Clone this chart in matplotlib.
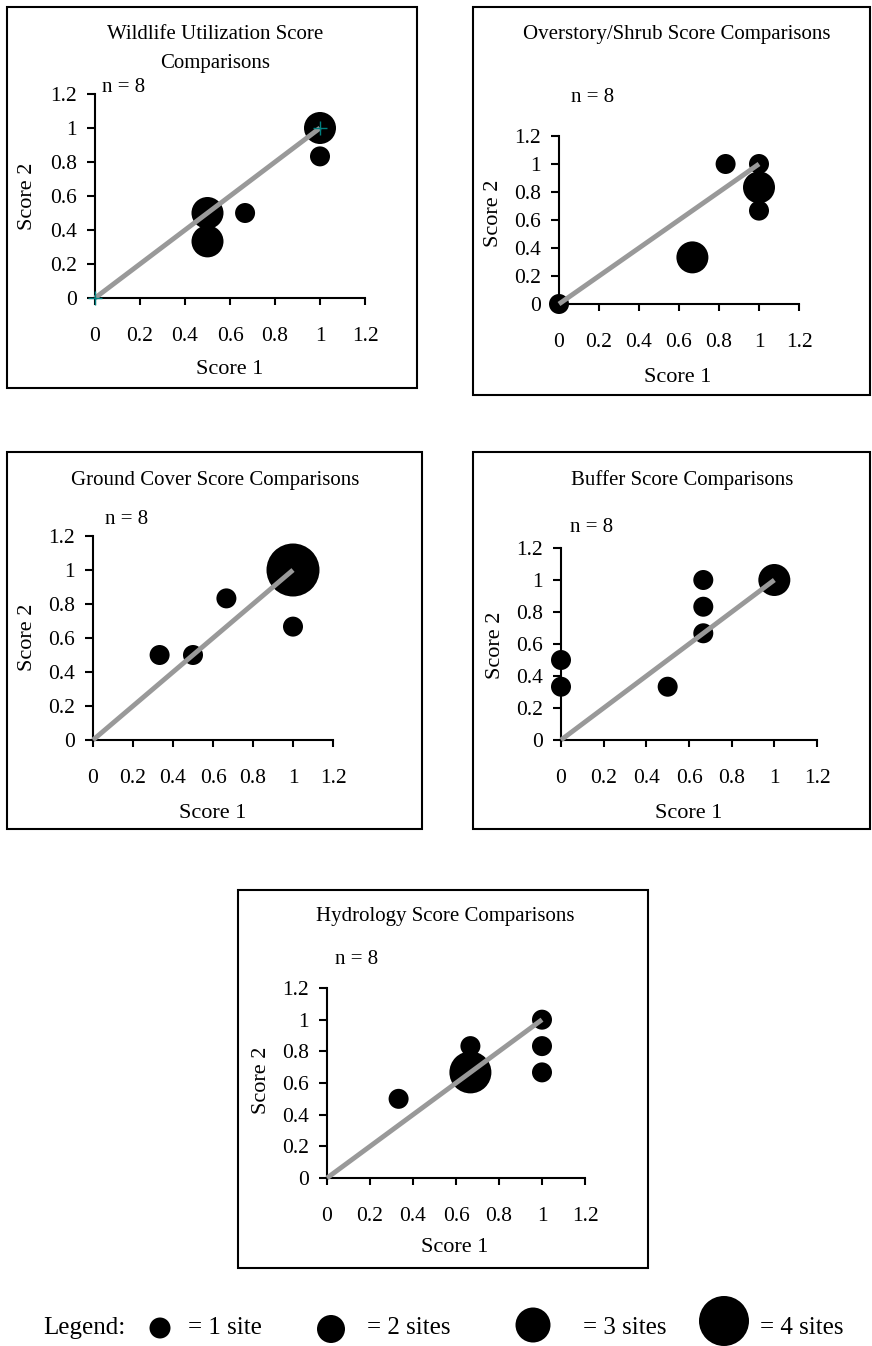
import matplotlib
matplotlib.use("Agg")
import matplotlib.pyplot as plt
from matplotlib.patches import Rectangle

plt.rcParams["font.family"] = "Liberation Serif"

# sites per bubble: (score 1, score 2, number of sites)
wildlife_x = [1, 0.5, 0.5, 0.667, 1]
wildlife_y = [1, 0.5, 0.333, 0.5, 0.833]
wildlife_n = [2, 2, 2, 1, 1]

overstory_x = [0, 0.833, 1, 1, 1, 0.667]
overstory_y = [0, 1, 1, 0.833, 0.667, 0.333]
overstory_n = [1, 1, 1, 2, 1, 2]

ground_x = [0.333, 0.5, 0.667, 1, 1]
ground_y = [0.5, 0.5, 0.833, 1, 0.667]
ground_n = [1, 1, 1, 4, 1]

buffer_x = [0, 0, 0.5, 0.667, 0.667, 0.667, 1]
buffer_y = [0.5, 0.333, 0.333, 1, 0.833, 0.667, 1]
buffer_n = [1, 1, 1, 1, 1, 1, 2]

hydro_x = [0.333, 0.667, 0.667, 1, 1, 1]
hydro_y = [0.5, 0.833, 0.667, 1, 0.833, 0.667]
hydro_n = [1, 1, 3, 1, 1, 1]

line_x = [0, 1]
line_y = [0, 1]

tick_values = [0, 0.2, 0.4, 0.6, 0.8, 1, 1.2]
tick_labels = ["0", "0.2", "0.4", "0.6", "0.8", "1", "1.2"]

legend_counts = [1, 2, 3, 4]
legend_labels = ["= 1 site", "= 2 sites", "= 3 sites", "= 4 sites"]

W, H = 872, 1346
PX = 0.72  # points per pixel at dpi 100
bubble_px = {1: 20, 2: 32, 3: 42, 4: 53}


def fx(px):
    return px / W


def fy(py):
    return 1 - py / H


fig = plt.figure(figsize=(W / 100, H / 100), dpi=100)

panels = [
    dict(title="Wildlife Utilization Score\nComparisons", x=wildlife_x, y=wildlife_y, n=wildlife_n,
         box=(7, 7, 417, 388), ax=(95, 94, 365, 298), title_xy=(215, 49), n_xy=(102, 88),
         xl=(230, 370), yl=(28, 196), plus=True),
    dict(title="Overstory/Shrub Score Comparisons", x=overstory_x, y=overstory_y, n=overstory_n,
         box=(473, 7, 870, 395), ax=(559, 136, 799, 304), title_xy=(677, 35), n_xy=(571, 98),
         xl=(678, 377), yl=(493, 213), plus=False),
    dict(title="Ground Cover Score Comparisons", x=ground_x, y=ground_y, n=ground_n,
         box=(7, 452, 422, 829), ax=(93, 536, 333, 740), title_xy=(215, 480), n_xy=(105, 520),
         xl=(213, 813), yl=(28, 637), plus=False),
    dict(title="Buffer Score Comparisons", x=buffer_x, y=buffer_y, n=buffer_n,
         box=(473, 452, 870, 829), ax=(561, 548, 817, 740), title_xy=(682, 480), n_xy=(570, 528),
         xl=(689, 813), yl=(495, 645), plus=False),
    dict(title="Hydrology Score Comparisons", x=hydro_x, y=hydro_y, n=hydro_n,
         box=(238, 890, 648, 1268), ax=(327, 988, 585, 1178), title_xy=(445, 917), n_xy=(335, 960),
         xl=(455, 1248), yl=(262, 1080), plus=False),
]

for p in panels:
    bl, bt, br, bb = p["box"]
    fig.patches.append(Rectangle((fx(bl), fy(bb)), (br - bl) / W, (bb - bt) / H,
                                 transform=fig.transFigure, fill=False,
                                 edgecolor="black", linewidth=1.5))

    l, t, r, b = p["ax"]
    ax = fig.add_axes([fx(l), fy(b), (r - l) / W, (b - t) / H])
    ax.set_xlim(0, 1.2)
    ax.set_ylim(0, 1.2)
    for side in ["top", "right"]:
        ax.spines[side].set_visible(False)
    for side in ["left", "bottom"]:
        ax.spines[side].set_linewidth(1.5)
    ax.set_xticks(tick_values)
    ax.set_xticklabels(tick_labels)
    ax.set_yticks(tick_values)
    ax.set_yticklabels(tick_labels)
    ax.tick_params(axis="x", direction="out", length=5, width=1.5, pad=16, labelsize=15.5)
    ax.tick_params(axis="y", direction="out", length=6, width=1.5, pad=7, labelsize=15.5)

    sizes = [(bubble_px[c] * PX) ** 2 for c in p["n"]]
    ax.scatter(p["x"], p["y"], s=sizes, color="black", edgecolors="none", zorder=2, clip_on=False)
    ax.plot(line_x, line_y, color="#999999", linewidth=3.5, solid_capstyle="butt", zorder=3, clip_on=False)
    if p["plus"]:
        ax.plot(line_x, line_y, linestyle="none", marker="+", markersize=10,
                markeredgewidth=1, color="#008080", zorder=4, clip_on=False)

    fig.text(fx(p["title_xy"][0]), fy(p["title_xy"][1]), p["title"], ha="center", va="center",
             fontsize=15, linespacing=1.65)
    fig.text(fx(p["n_xy"][0]), fy(p["n_xy"][1]), "n = 8", ha="left", va="center", fontsize=15)
    fig.text(fx(p["xl"][0]), fy(p["xl"][1]), "Score 1", ha="center", va="center", fontsize=16)
    fig.text(fx(p["yl"][0]), fy(p["yl"][1]), "Score 2", ha="center", va="center", fontsize=16,
             rotation=90)

# legend row
legend_dot_x = [160, 331, 533, 724]
legend_dot_y = [1328, 1329, 1325, 1321]
legend_dot_px = [21, 28, 35, 50]
legend_text_x = [188, 367, 583, 760]

lax = fig.add_axes([0, 0, 1, 1], zorder=-1)
lax.set_xlim(0, W)
lax.set_ylim(H, 0)
lax.axis("off")
lax.text(43, 1328, "Legend:", ha="left", va="center", fontsize=18)
for i, c in enumerate(legend_counts):
    lax.scatter([legend_dot_x[i]], [legend_dot_y[i]], s=(legend_dot_px[i] * PX) ** 2,
                color="black", edgecolors="none", clip_on=False)
    lax.text(legend_text_x[i], 1328, legend_labels[i], ha="left", va="center", fontsize=18)

fig.savefig("out.png", dpi=100)
